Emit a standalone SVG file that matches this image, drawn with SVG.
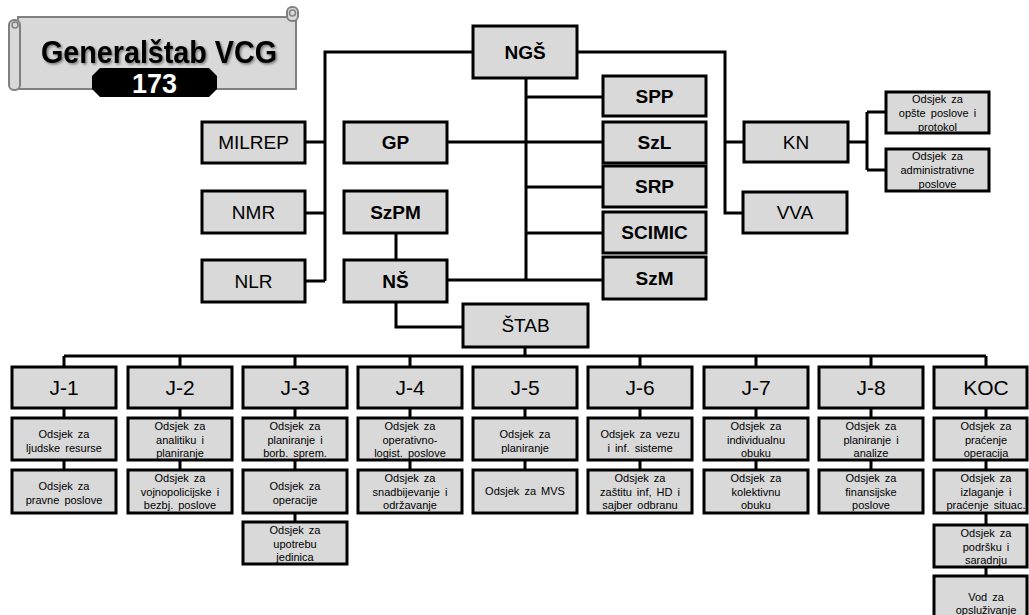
<svg xmlns="http://www.w3.org/2000/svg" width="1029" height="615" viewBox="0 0 1029 615">
<style>
.box{fill:#d9d9d9;stroke:#000;stroke-width:3}
.ln{fill:none;stroke:#000;stroke-width:3}
.t{font-family:"Liberation Sans",Arial,sans-serif;text-anchor:middle;fill:#000}
.r{font-size:19px}
.b{font-size:19px;font-weight:bold}
.j{font-size:21px}
.s{font-size:11px;word-spacing:2px}
</style>
<defs>
<filter id="sh" x="-10%" y="-20%" width="120%" height="140%"><feDropShadow dx="1.5" dy="1.5" stdDeviation="1.2" flood-color="#000" flood-opacity="0.45"/></filter>
</defs>
<rect width="1029" height="615" fill="#fff"/>

<g id="logo">
<rect x="18" y="17" width="278" height="72" fill="#d9d9d9" stroke="#808080" stroke-width="2"/>
<rect x="9" y="20" width="11" height="70" rx="5" fill="#d9d9d9" stroke="#808080" stroke-width="2"/>
<circle cx="15" cy="25" r="3" fill="none" stroke="#808080" stroke-width="1.5"/>
<rect x="287" y="7" width="11" height="14" rx="5" fill="#d9d9d9" stroke="#808080" stroke-width="2"/>
<circle cx="292.5" cy="13" r="3" fill="none" stroke="#808080" stroke-width="1.5"/>
<text class="t" x="159" y="63" font-size="31" font-weight="bold" textLength="236" lengthAdjust="spacingAndGlyphs" filter="url(#sh)">Generalštab VCG</text>
<polygon points="100,68 209,68 217,76 217,89 209,97 100,97 92,89 92,76" fill="#000"/>
<text class="t" x="154.5" y="93" font-size="27" font-weight="bold" style="fill:#fff">173</text>
</g>

<g id="connectors">
<path class="ln" d="M473,52 H325 V281 M305,142 H325 M305,213 H325 M305,281 H325"/>
<path class="ln" d="M526,78 V281 M526,97 H603 M447,142 H603 M526,187 H603 M526,233 H603 M447,280 H603"/>
<path class="ln" d="M396,233 V260 M396,302 V327 H463"/>
<path class="ln" d="M577,52 H725 V213 H743 M725,142 H744"/>
<path class="ln" d="M848,142 H867 M867,112 V170 M867,112 H886 M867,170 H886"/>
<path class="ln" d="M525,347 V356 M64,356 H986 M64,356 V367 M180,356 V367 M295,356 V367 M410,356 V367 M640,356 V367 M756,356 V367 M871,356 V367 M986,356 V367"/>
<path class="ln" d="M64,408 V470 M180,408 V470 M295,408 V522 M410,408 V470 M525,408 V470 M640,408 V470 M756,408 V470 M871,408 V470 M986,408 V576"/>
</g>

<g id="n-ngs"><rect class="box" x="473" y="26" width="104" height="52"/><text class="t b" x="525" y="59" font-size="20">NGŠ</text></g>
<g id="n-milrep"><rect class="box" x="202" y="122" width="103" height="41"/><text class="t r" x="253.5" y="149">MILREP</text></g>
<g id="n-nmr"><rect class="box" x="202" y="191" width="103" height="42"/><text class="t r" x="253.5" y="219">NMR</text></g>
<g id="n-nlr"><rect class="box" x="202" y="260" width="103" height="42"/><text class="t r" x="253.5" y="288">NLR</text></g>
<g id="n-gp"><rect class="box" x="344" y="122" width="103" height="41"/><text class="t b" x="395.5" y="149">GP</text></g>
<g id="n-szpm"><rect class="box" x="344" y="191" width="103" height="42"/><text class="t b" x="395.5" y="219">SzPM</text></g>
<g id="n-ns"><rect class="box" x="344" y="260" width="103" height="42"/><text class="t b" x="395.5" y="288">NŠ</text></g>
<g id="n-stab"><rect class="box" x="463" y="304" width="125" height="43"/><text class="t r" x="525.5" y="332">ŠTAB</text></g>
<g id="n-spp"><rect class="box" x="603" y="76" width="103" height="40"/><text class="t b" x="654.5" y="103">SPP</text></g>
<g id="n-szl"><rect class="box" x="603" y="122" width="103" height="41"/><text class="t b" x="654.5" y="149">SzL</text></g>
<g id="n-srp"><rect class="box" x="603" y="166" width="103" height="41"/><text class="t b" x="654.5" y="193">SRP</text></g>
<g id="n-scimic"><rect class="box" x="603" y="212" width="103" height="41"/><text class="t b" x="654.5" y="239">SCIMIC</text></g>
<g id="n-szm"><rect class="box" x="603" y="257" width="103" height="42"/><text class="t b" x="654.5" y="285">SzM</text></g>
<g id="n-kn"><rect class="box" x="744" y="122" width="104" height="40"/><text class="t r" x="796" y="149">KN</text></g>
<g id="n-vva"><rect class="box" x="743" y="192" width="104" height="41"/><text class="t r" x="795" y="219">VVA</text></g>
<g id="n-kn1"><rect class="box" x="886" y="92" width="103" height="41"/><text class="t s" x="937.5"><tspan x="937.5" y="103">Odsjek za</tspan><tspan x="937.5" y="117">opšte poslove i</tspan><tspan x="937.5" y="131">protokol</tspan></text></g>
<g id="n-kn2"><rect class="box" x="886" y="149" width="103" height="42"/><text class="t s" x="937.5"><tspan x="937.5" y="160">Odsjek za</tspan><tspan x="937.5" y="174">administrativne</tspan><tspan x="937.5" y="188">poslove</tspan></text></g>

<g id="n-j1"><rect class="box" x="12" y="367" width="104" height="41"/><text class="t j" x="64" y="395">J-1</text>
<rect class="box" x="12" y="418" width="104" height="42"/><text class="t s"><tspan x="64" y="438">Odsjek za</tspan><tspan x="64" y="452">ljudske resurse</tspan></text>
<rect class="box" x="12" y="470" width="104" height="43"/><text class="t s"><tspan x="64" y="490">Odsjek za</tspan><tspan x="64" y="504">pravne poslove</tspan></text></g>

<g id="n-j2"><rect class="box" x="128" y="367" width="104" height="41"/><text class="t j" x="180" y="395">J-2</text>
<rect class="box" x="128" y="418" width="104" height="42"/><text class="t s"><tspan x="180" y="430">Odsjek za</tspan><tspan x="180" y="443.5">analitiku i</tspan><tspan x="180" y="457">planiranje</tspan></text>
<rect class="box" x="128" y="470" width="104" height="43"/><text class="t s"><tspan x="180" y="482">Odsjek za</tspan><tspan x="180" y="495.5">vojnopolicijske i</tspan><tspan x="180" y="509">bezbj. poslove</tspan></text></g>

<g id="n-j3"><rect class="box" x="243" y="367" width="104" height="41"/><text class="t j" x="295" y="395">J-3</text>
<rect class="box" x="243" y="418" width="104" height="42"/><text class="t s"><tspan x="295" y="430">Odsjek za</tspan><tspan x="295" y="443.5">planiranje i</tspan><tspan x="295" y="457">borb. sprem.</tspan></text>
<rect class="box" x="243" y="470" width="104" height="43"/><text class="t s"><tspan x="295" y="490">Odsjek za</tspan><tspan x="295" y="504">operacije</tspan></text>
<rect class="box" x="243" y="522" width="104" height="42"/><text class="t s"><tspan x="295" y="534">Odsjek za</tspan><tspan x="295" y="547.5">upotrebu</tspan><tspan x="295" y="561">jedinica</tspan></text></g>

<g id="n-j4"><rect class="box" x="358" y="367" width="104" height="41"/><text class="t j" x="410" y="395">J-4</text>
<rect class="box" x="358" y="418" width="104" height="42"/><text class="t s"><tspan x="410" y="430">Odsjek za</tspan><tspan x="410" y="443.5">operativno-</tspan><tspan x="410" y="457">logist. poslove</tspan></text>
<rect class="box" x="358" y="470" width="104" height="43"/><text class="t s"><tspan x="410" y="482">Odsjek za</tspan><tspan x="410" y="495.5">snadbijevanje i</tspan><tspan x="410" y="509">održavanje</tspan></text></g>

<g id="n-j5"><rect class="box" x="473" y="367" width="104" height="41"/><text class="t j" x="525" y="395">J-5</text>
<rect class="box" x="473" y="418" width="104" height="42"/><text class="t s"><tspan x="525" y="438">Odsjek za</tspan><tspan x="525" y="452">planiranje</tspan></text>
<rect class="box" x="473" y="470" width="104" height="43"/><text class="t s" x="525" y="495">Odsjek za MVS</text></g>

<g id="n-j6"><rect class="box" x="588" y="367" width="104" height="41"/><text class="t j" x="640" y="395">J-6</text>
<rect class="box" x="588" y="418" width="104" height="42"/><text class="t s"><tspan x="640" y="438">Odsjek za vezu</tspan><tspan x="640" y="452">i inf. sisteme</tspan></text>
<rect class="box" x="588" y="470" width="104" height="43"/><text class="t s"><tspan x="640" y="482">Odsjek za</tspan><tspan x="640" y="495.5">zaštitu inf, HD i</tspan><tspan x="640" y="509">sajber odbranu</tspan></text></g>

<g id="n-j7"><rect class="box" x="704" y="367" width="104" height="41"/><text class="t j" x="756" y="395">J-7</text>
<rect class="box" x="704" y="418" width="104" height="42"/><text class="t s"><tspan x="756" y="430">Odsjek za</tspan><tspan x="756" y="443.5">individualnu</tspan><tspan x="756" y="457">obuku</tspan></text>
<rect class="box" x="704" y="470" width="104" height="43"/><text class="t s"><tspan x="756" y="482">Odsjek za</tspan><tspan x="756" y="495.5">kolektivnu</tspan><tspan x="756" y="509">obuku</tspan></text></g>

<g id="n-j8"><rect class="box" x="819" y="367" width="104" height="41"/><text class="t j" x="871" y="395">J-8</text>
<rect class="box" x="819" y="418" width="104" height="42"/><text class="t s"><tspan x="871" y="430">Odsjek za</tspan><tspan x="871" y="443.5">planiranje i</tspan><tspan x="871" y="457">analize</tspan></text>
<rect class="box" x="819" y="470" width="104" height="43"/><text class="t s"><tspan x="871" y="482">Odsjek za</tspan><tspan x="871" y="495.5">finansijske</tspan><tspan x="871" y="509">poslove</tspan></text></g>

<g id="n-koc"><rect class="box" x="934" y="367" width="93" height="41"/><text class="t j" x="986" y="395">KOC</text>
<rect class="box" x="934" y="418" width="93" height="42"/><text class="t s"><tspan x="986" y="430">Odsjek za</tspan><tspan x="986" y="443.5">praćenje</tspan><tspan x="986" y="457">operacija</tspan></text>
<rect class="box" x="934" y="470" width="93" height="43"/><text class="t s"><tspan x="986" y="482">Odsjek za</tspan><tspan x="986" y="495.5">izlaganje i</tspan><tspan x="986" y="509">praćenje situac.</tspan></text>
<rect class="box" x="934" y="525" width="93" height="42"/><text class="t s"><tspan x="986" y="537">Odsjek za</tspan><tspan x="986" y="550.5">podršku i</tspan><tspan x="986" y="564">saradnju</tspan></text>
<rect class="box" x="934" y="576" width="93" height="45"/><text class="t s"><tspan x="986" y="601">Vod za</tspan><tspan x="986" y="614">opsluživanje</tspan></text></g>
</svg>
